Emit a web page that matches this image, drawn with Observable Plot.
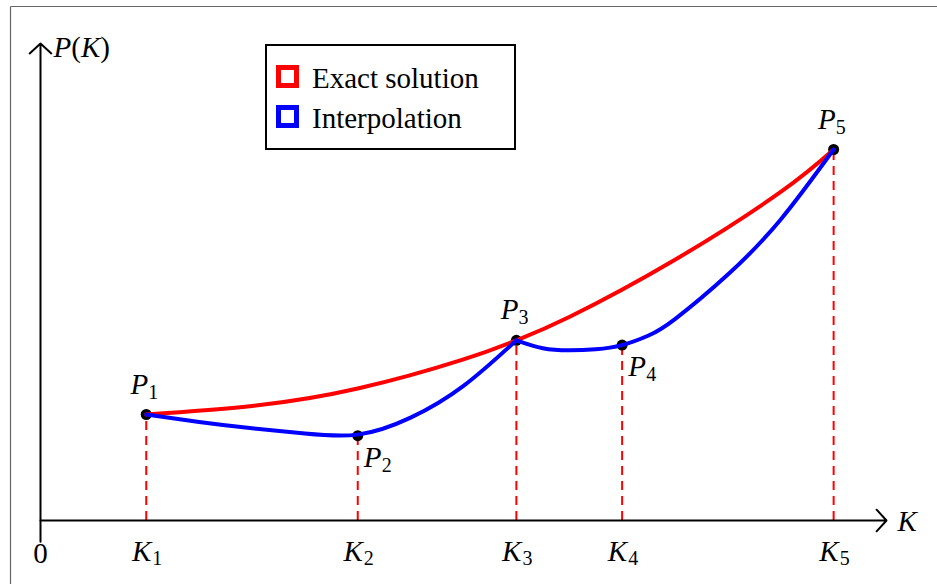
<!DOCTYPE html>
<html>
<head>
<meta charset="utf-8">
<script src="https://cdn.jsdelivr.net/npm/d3@7"></script>
<script src="https://cdn.jsdelivr.net/npm/@observablehq/plot@0.6"></script>
</head>
<body style="margin:0">
<div id="p"></div>
<script>
// Interpolation nodes
const nodeK = [1, 3, 4.5, 5.5, 7.5];
const nodeP = [1.0, 0.8, 1.7, 1.655, 3.5];
const nodeSubs = ["1", "2", "3", "4", "5"];
const nodePlace = ["above", "below right", "above", "below right", "above"];

// Exact solution
const exactK = [1, 2, 3, 4, 4.5, 5, 6, 7, 7.5];
const exactP = [1.0, 1.08, 1.245, 1.52, 1.7, 1.92, 2.46, 3.1, 3.5];

// Interpolation, piece 1 (P1-P2-P3) and piece 2 (P3-P4-P5)
const interp1K = [1, 1.5, 2, 2.5, 3, 3.5, 4, 4.5];
const interp1P = [1.0, 0.93, 0.87, 0.82, 0.81, 0.97, 1.27, 1.7];
const interp2K = [4.5, 4.75, 5, 5.25, 5.5, 5.75, 6, 6.5, 7, 7.5];
const interp2P = [1.7, 1.625, 1.605, 1.615, 1.655, 1.745, 1.9, 2.32, 2.84, 3.5];

// Axes
const xMax = 8, yMax = 4.5, yMin = -0.2;
const xAxisLabel = "K", yAxisLabel = "P(K)", originLabel = "0";
const tickLetter = "K", pointLetter = "P";
const legendLabels = ["Exact solution", "Interpolation"];
const legendColors = ["red", "blue"];

const points = nodeK.map((k, i) => ({K: k, P: nodeP[i], sub: nodeSubs[i], place: nodePlace[i]}));
const above = points.filter(d => d.place === "above");
const belowRight = points.filter(d => d.place === "below right");
const exact = exactK.map((k, i) => ({K: k, P: exactP[i]}));
const interp = [
  ...interp1K.map((k, i) => ({K: k, P: interp1P[i], seg: 1})),
  ...interp2K.map((k, i) => ({K: k, P: interp2P[i], seg: 2}))
];
const axes = [
  {x1: 0, y1: 0, x2: xMax, y2: 0},
  {x1: 0, y1: yMin, x2: 0, y2: yMax}
];

const FONT = "Liberation Serif";
const BIG = 29, SUB = 20;

const chart = Plot.plot({
  width: 937,
  height: 584,
  marginLeft: 40,
  marginRight: 51,
  marginTop: 43,
  marginBottom: 64,
  x: {domain: [0, xMax], axis: null},
  y: {domain: [0, yMax], axis: null},
  marks: [
    Plot.ruleX(points, {x: "K", y1: 0, y2: "P", stroke: "red", strokeWidth: 2, strokeDasharray: "9,6"}),
    Plot.arrow(axes, {x1: "x1", y1: "y1", x2: "x2", y2: "y2", stroke: "black", strokeWidth: 2, headLength: 11, headAngle: 95}),
    Plot.dot(points, {x: "K", y: "P", r: 5.5, fill: "black"}),
    Plot.line(exact, {x: "K", y: "P", stroke: "red", strokeWidth: 4, curve: "natural"}),
    Plot.line(interp, {x: "K", y: "P", z: "seg", stroke: "blue", strokeWidth: 4, curve: "natural"}),
    // point labels above
    Plot.text(above, {x: "K", y: "P", text: () => pointLetter, fontFamily: FONT, fontStyle: "italic", fontSize: BIG, textAnchor: "end", lineAnchor: "bottom", dx: 2, dy: -21, fill: "black"}),
    Plot.text(above, {x: "K", y: "P", text: "sub", fontFamily: FONT, fontSize: SUB, textAnchor: "start", lineAnchor: "bottom", dx: 2, dy: -16, fill: "black"}),
    // point labels below right
    Plot.text(belowRight, {x: "K", y: "P", text: () => pointLetter, fontFamily: FONT, fontStyle: "italic", fontSize: BIG, textAnchor: "start", lineAnchor: "bottom", dx: 6, dy: 31, fill: "black"}),
    Plot.text(belowRight, {x: "K", y: "P", text: "sub", fontFamily: FONT, fontSize: SUB, textAnchor: "start", lineAnchor: "bottom", dx: 24, dy: 36, fill: "black"}),
    // tick labels
    Plot.text(points, {x: "K", y: 0, text: () => tickLetter, fontFamily: FONT, fontStyle: "italic", fontSize: BIG, textAnchor: "end", lineAnchor: "bottom", dx: 5, dy: 40, fill: "black"}),
    Plot.text(points, {x: "K", y: 0, text: "sub", fontFamily: FONT, fontSize: SUB, textAnchor: "start", lineAnchor: "bottom", dx: 6, dy: 44, fill: "black"}),
    Plot.text([originLabel], {x: 0, y: 0, text: d => d, fontFamily: FONT, fontSize: BIG, textAnchor: "middle", lineAnchor: "bottom", dy: 42, fill: "black"}),
    // axis labels
    Plot.text([xAxisLabel], {x: xMax, y: 0, text: d => d, fontFamily: FONT, fontStyle: "italic", fontSize: BIG, textAnchor: "start", lineAnchor: "bottom", dx: 11, dy: 10, fill: "black"}),
    Plot.text([yAxisLabel], {x: 0, y: yMax, text: d => d, fontFamily: FONT, fontSize: BIG, textAnchor: "start", lineAnchor: "bottom", dx: 13, dy: 13, fill: "black", className: "ylab"})
  ]
});

// Math styling for P(K): italic letters, upright parentheses
d3.select(chart).selectAll(".ylab text").each(function() {
  const s = this.textContent;
  const t = d3.select(this);
  t.text(null);
  for (const ch of s) {
    const span = t.append("tspan").text(ch);
    if (/[A-Za-z]/.test(ch)) span.attr("font-style", "italic");
  }
});

// Frame (figure border) and legend box, appended into the same SVG
const svg = d3.select(chart);
svg.append("line").attr("x1", 10.5).attr("y1", 6.5).attr("x2", 937).attr("y2", 6.5).attr("stroke", "#666").attr("stroke-width", 1.2);
svg.append("line").attr("x1", 10.5).attr("y1", 6.5).attr("x2", 10.5).attr("y2", 584).attr("stroke", "#666").attr("stroke-width", 1.2);
const lg = svg.append("g").attr("font-family", FONT).attr("font-size", BIG).attr("text-anchor", "start");
lg.append("rect").attr("x", 266).attr("y", 45).attr("width", 249).attr("height", 104).attr("fill", "white").attr("stroke", "black").attr("stroke-width", 2);
legendLabels.forEach((lab, i) => {
  const y0 = 65 + i * 40;
  lg.append("rect").attr("x", 278.5).attr("y", y0 + 2.5).attr("width", 18).attr("height", 18).attr("fill", "none").attr("stroke", legendColors[i]).attr("stroke-width", 5);
  lg.append("text").attr("x", 312).attr("y", y0 + 23).attr("fill", "black").attr("font-family", FONT).attr("text-anchor", "start").text(lab);
});

document.getElementById("p").appendChild(chart);
</script>
</body>
</html>
